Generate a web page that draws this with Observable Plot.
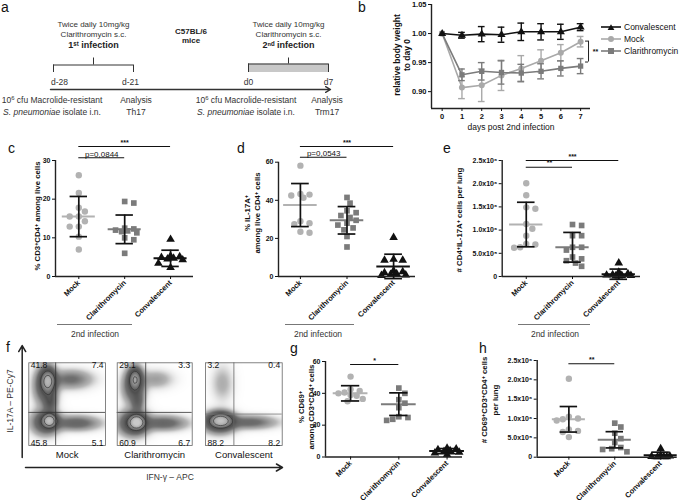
<!DOCTYPE html>
<html>
<head>
<meta charset="utf-8">
<script src="https://cdn.jsdelivr.net/npm/d3@7"></script>
<script src="https://cdn.jsdelivr.net/npm/@observablehq/plot@0.6"></script>
<style>
  html,body{margin:0;padding:0;background:#fff;}
  #fig{position:relative;width:683px;height:504px;overflow:hidden;background:#fff;font-family:"Liberation Sans",Arial,Helvetica,sans-serif;color:#111;}
  .layer{position:absolute;left:0;top:0;}
  .t{position:absolute;white-space:nowrap;line-height:1;}
  .c{transform:translate(-50%,-50%);text-align:center;}
  .r{transform:translate(-50%,-50%) rotate(-90deg);text-align:center;}
  sup{font-size:70%;line-height:0;vertical-align:0.45em;}
</style>
</head>
<body>
<div id="fig"></div>
<script>
// ================= DATA =================
const groups = ["Mock", "Clarithromycin", "Convalescent"];
const groupColors = ["#b2b2b2", "#7b7b7b", "#111111"];
const groupSymbols = ["circle", "square", "triangle"];

// panel a (timeline)
const phases = [
  {start: -28, end: -21, title: "Twice daily 10mg/kg\nClarithromycin s.c.", infection: "1ˢᵗ infection", filled: false},
  {start: 0, end: 7, title: "Twice daily 10mg/kg\nClarithromycin s.c.", infection: "2ⁿᵈ infection", filled: true}
];
const timepoints = [{day: -28, label: "d-28"}, {day: -21, label: "d-21"}, {day: 0, label: "d0"}, {day: 7, label: "d7"}];
const strainLabel = "C57BL/6\nmice";

// panel b (body weight)
const days = [0, 1, 2, 3, 4, 5, 6, 7];
const bSeries = ["Mock", "Clarithromycin", "Convalescent"];
const weightMock = [1.000, 0.907, 0.911, 0.928, 0.940, 0.953, 0.967, 0.986];
const weightMockSD = [0, 0.019, 0.028, 0.026, 0.022, 0.019, 0.014, 0.009];
const weightClari = [1.000, 0.929, 0.935, 0.933, 0.932, 0.935, 0.940, 0.944];
const weightClariSD = [0, 0.010, 0.015, 0.020, 0.015, 0.013, 0.013, 0.013];
const weightConv = [1.000, 0.997, 0.999, 0.998, 1.003, 1.003, 1.003, 1.011];
const weightConvSD = [0, 0.005, 0.013, 0.013, 0.015, 0.014, 0.013, 0.006];
const bYTicks = [0.90, 0.95, 1.00, 1.05];
const bSig = {low: 0.951, high: 0.987, label: "**"};

// panel c
const cMock = [26.2, 21.6, 17.8, 16.8, 15.5, 15.5, 14.3, 12.9, 12.9, 10.3, 7.0];
const cClari = [19.4, 19.0, 12.5, 12.3, 12.0, 11.8, 11.6, 11.3, 10.0, 9.5, 6.0];
const cConv = [9.6, 5.3, 5.1, 4.9, 4.7, 4.5, 4.3, 3.4, 2.3];
const cMean = [15.5, 12.2, 4.7], cSD = [5.2, 3.7, 2.1];
const cTicks = [0, 10, 20, 30], cTickLabels = ["0", "10", "20", "30"];
const cSigs = [{a: "Mock", b: "Convalescent", label: "***"}, {a: "Mock", b: "Clarithromycin", label: "p=0,0844"}];

// panel d
const dMock = [58.2, 43.3, 43.0, 42.5, 41.3, 29.0, 28.0, 27.5, 23.5, 23.0];
const dClari = [41.5, 38.5, 34.5, 33.5, 32.0, 31.0, 29.5, 28.0, 27.0, 25.5, 24.5, 21.0, 15.5];
const dConv = [20.5, 9.0, 8.5, 8.5, 3.0, 2.5, 2.0, 1.5, 1.0, 0.8, 0.5];
const dMean = [37.5, 29.5, 5.3], dSD = [11.3, 7.2, 6.4];
const dTicks = [0, 20, 40, 60], dTickLabels = ["0", "20", "40", "60"];
const dSigs = [{a: "Mock", b: "Convalescent", label: "***"}, {a: "Mock", b: "Clarithromycin", label: "p=0,0543"}];

// panel e (x 10^6)
const eMock = [2.01, 1.75, 1.49, 1.46, 1.13, 1.03, 0.88, 0.70, 0.69, 0.63, 0.62];
const eClari = [1.12, 1.10, 0.88, 0.88, 0.63, 0.63, 0.57, 0.42, 0.38, 0.34, 0.29, 0.22];
const eConv = [0.29, 0.09, 0.06, 0.04, 0.03, 0.02, 0.02, 0.01, 0.01];
const eMean = [1.12, 0.63, 0.05], eSD = [0.48, 0.32, 0.11];
const millionTicks = [0, 0.5, 1, 1.5, 2, 2.5];
const millionTickLabels = ["0", "5.0x10⁵", "1.0x10⁶", "1.5x10⁶", "2.0x10⁶", "2.5x10⁶"];
const eSigs = [{a: "Mock", b: "Convalescent", label: "***"}, {a: "Mock", b: "Clarithromycin", label: "**"}];

// panel g
const gMock = [50.5, 42.5, 41.5, 40.5, 40.0, 39.0, 38.5, 36.5, 35.0];
const gClari = [43.3, 40.0, 36.0, 33.8, 31.0, 25.3, 24.8, 23.7, 23.0];
const gConv = [5.5, 5.0, 4.5, 4.0, 3.5, 3.0, 2.5, 1.5];
const gMean = [40.0, 33.2, 3.7], gSD = [4.8, 7.1, 1.6];
const gTicks = [0, 20, 40, 60], gTickLabels = ["0", "20", "40", "60"];
const gSigs = [{a: "Mock", b: "Clarithromycin", label: "*"}];

// panel h (x 10^6)
const hMock = [2.03, 1.05, 1.00, 0.98, 0.95, 0.72, 0.68, 0.65, 0.52];
const hClari = [0.88, 0.78, 0.62, 0.48, 0.38, 0.25, 0.22, 0.20, 0.14];
const hConv = [0.22, 0.04, 0.03, 0.02, 0.02, 0.01, 0.01];
const hMean = [0.98, 0.45, 0.05], hSD = [0.33, 0.21, 0.08];
const hSigs = [{a: "Mock", b: "Clarithromycin", label: "**"}];

// panel f (flow cytometry): quadrant % [UL, UR, LL, LR], gate (% of IFN-γ axis, % of IL-17A axis)
const flowSamples = ["Mock", "Clarithromycin", "Convalescent"];
const flowQuadrants = [[41.8, 7.4, 45.8, 5.1], [29.1, 3.3, 60.9, 6.7], [3.2, 0.4, 88.2, 8.2]];
const flowGates = [[35, 40], [38, 40], [37, 38]];
// cell populations: [IFN-γ centre, IL-17A centre, spread x, spread y, weight]
const flowPopMock = [[25,78,5.5,8,1.0],[22,72,9,14,0.3],[28,53,5,8,0.25],[27,30,5.5,5,1.2],[22,28,11,9,0.32],[62,27,19,5.5,0.2],[55,80,17,7,0.16]];
const flowPopClari = [[24,80,5,7.5,0.8],[22,72,9,13,0.27],[27,53,5,8,0.18],[26,28,6,5,1.5],[22,27,12,9,0.4],[62,27,19,5.5,0.2],[52,80,14,7,0.08]];
const flowPopConv = [[20,30,8.5,5,1.2],[18,28,13,8,0.32],[58,28,21,5,0.18],[22,75,9,14,0.06]];

// ================= HELPERS =================
const fig = document.getElementById("fig");
const FONT = '"Liberation Sans", Arial, Helvetica, sans-serif';
function add(el) { if (el) { el.classList.add("layer"); fig.appendChild(el); } }
function safe(fn, fallback) {
  try { add(fn()); } catch (e) { console.error(e); if (fallback) { try { add(fallback()); } catch (e2) { console.error(e2); } } }
}
function html(content, x, y, cls, css = "") {
  const d = document.createElement("div");
  d.className = "t " + cls;
  d.style.cssText = `left:${x}px;top:${y}px;${css}`;
  d.innerHTML = content;
  fig.appendChild(d);
}
// GraphPad-like scatter layout: spread points sideways only where they would overlap
function swarm(values, ppuY, r = 3.2, maxOff = 13) {
  const placed = [], out = [];
  const order = values.map(v => ({v})).sort((a, b) => b.v - a.v);
  const step = r * 0.95;
  for (const p of order) {
    const py = p.v * ppuY;
    let best = null, thr = 2 * r;
    while (best === null) {
      for (let k = 0; k < 40; k++) {
        const off = k === 0 ? 0 : (k % 2 ? 1 : -1) * Math.ceil(k / 2) * step;
        if (Math.abs(off) > maxOff) break;
        if (placed.every(q => Math.hypot(q.x - off, q.y - py) >= thr)) { best = off; break; }
      }
      thr *= 0.8;
      if (thr < 0.5) best = 0;
    }
    placed.push({x: best, y: py});
    out.push({v: p.v, off: best});
  }
  return out;
}
const baseStyle = {background: "transparent", fontFamily: FONT, fontSize: "7px", fontWeight: "bold", overflow: "visible", color: "#111"};

function scatterPanel(L, D) {
  const ppuY = (L.y0 - L.yTopPx) / L.yTop;
  const domTop = (L.y0 - L.frameTop) / ppuY;
  const ppuX = (L.x1 - L.x0) / (L.xDomain[1] - L.xDomain[0]);
  const pts = [];
  D.values.forEach((vals, i) => swarm(vals, ppuY).forEach(p => pts.push({g: groups[i], x: i + p.off / ppuX, y: p.v})));
  const stats = groups.map((g, i) => ({g, i, mean: D.mean[i], lo: D.mean[i] - D.sd[i], hi: D.mean[i] + D.sd[i]}));
  const caps = stats.flatMap(s => [{i: s.i, y: s.lo}, {i: s.i, y: s.hi}]);
  const sigs = D.sigs.map((s, k) => ({...s, ia: groups.indexOf(s.a), ib: groups.indexOf(s.b), y: (L.y0 - L.sigPx[k]) / ppuY}));
  const stars = sigs.filter(s => /^\*+$/.test(s.label));
  const pvals = sigs.filter(s => !/^\*+$/.test(s.label));
  return Plot.plot({
    width: 683, height: 504,
    marginLeft: L.x0, marginRight: 683 - L.x1, marginTop: L.frameTop, marginBottom: 504 - L.y0,
    x: {domain: L.xDomain},
    y: {domain: [0, domTop]},
    color: {domain: groups, range: groupColors},
    symbol: {domain: groups, range: groupSymbols},
    style: baseStyle,
    marks: [
      Plot.dot(pts, {x: "x", y: "y", fill: "g", symbol: "g", r: 3.2}),
      Plot.ruleY(stats, {y: "mean", x1: d => d.i - 0.36, x2: d => d.i + 0.36, stroke: "g", strokeWidth: 2}),
      Plot.ruleX(stats, {x: "i", y1: "lo", y2: "hi", stroke: "#111", strokeWidth: 1.7}),
      Plot.ruleY(caps, {y: "y", x1: d => d.i - 0.19, x2: d => d.i + 0.19, stroke: "#111", strokeWidth: 1.7}),
      Plot.ruleY([0], {stroke: "#222", strokeWidth: 1.4}),
      Plot.ruleX([L.xDomain[0]], {y1: 0, y2: L.yTop, stroke: "#222", strokeWidth: 1.4}),
      Plot.axisY({ticks: D.ticks, tickFormat: d => D.tickLabels[D.ticks.indexOf(d)], tickSize: 3, tickPadding: 2, label: null, fontSize: 7}),
      Plot.axisX({ticks: [0, 1, 2], tickFormat: i => groups[i], tickRotate: -45, tickSize: 3, tickPadding: 2, label: null, fontSize: 7.5}),
      Plot.ruleY(sigs, {y: "y", x1: "ia", x2: "ib", stroke: "#111", strokeWidth: 1.1}),
      Plot.text(stars, {x: d => (d.ia + d.ib) / 2, y: "y", text: "label", dy: -4, fontSize: 7, fontWeight: "bold"}),
      Plot.text(pvals, {x: d => (d.ia + d.ib) / 2, y: "y", text: "label", lineAnchor: "bottom", dy: -1, fontSize: 8, fontWeight: "normal"})
    ]
  });
}

// ================= PANEL A =================
// schematic (broken) time axis: the two 7-day phases are drawn wider than the gap between them
const timelineUnits = d3.scaleLinear().domain([-28, -21, 0, 7]).range([0, 80, 195, 275]);
const T = d => timelineUnits(d);
const RA = {treat: 28, inf: 45, tick: 57.5, top: 64.5, foot: 72, day: 82, axis: 89, mice: 35};
safe(() => Plot.plot({
  width: 683, height: 504, marginLeft: 53, marginRight: 683 - 328, marginTop: 0, marginBottom: 0,
  x: {domain: [0, 275], axis: null},
  y: {type: "identity", axis: null},
  style: {...baseStyle, fontWeight: "normal"},
  marks: [
    Plot.rect(phases.filter(p => p.filled), {x1: d => T(d.start), x2: d => T(d.end), y1: () => RA.top - 1, y2: () => RA.foot, fill: "#c8c8c8"}),
    Plot.ruleY(phases, {y: d => d.filled ? RA.top - 1 : RA.top, x1: d => T(d.start), x2: d => T(d.end), stroke: "#333", strokeWidth: 1}),
    Plot.ruleX(phases.flatMap(p => [{x: p.start, p}, {x: p.end, p}]), {x: d => T(d.x), y1: d => d.p.filled ? RA.top - 1 : RA.top, y2: () => RA.foot, stroke: "#333", strokeWidth: 1}),
    Plot.ruleX(phases, {x: d => T((d.start + d.end) / 2), y1: () => RA.tick, y2: d => d.filled ? RA.top - 1 : RA.top, stroke: "#333", strokeWidth: 1}),
    Plot.arrow([{from: d3.min(timepoints, d => d.day), to: d3.max(timepoints, d => d.day)}], {x1: d => T(d.from) - 3, x2: d => T(d.to) + 2, y1: () => RA.axis, y2: () => RA.axis, stroke: "#333", strokeWidth: 1.4, headLength: 6}),
    Plot.text(phases, {x: d => T((d.start + d.end) / 2), y: () => RA.treat, text: "title", fontSize: 8, lineHeight: 1.25, fill: "#333"}),
    Plot.text(phases, {x: d => T((d.start + d.end) / 2), y: () => RA.inf, text: "infection", fontSize: 9, fontWeight: "bold", fill: "#222"}),
    Plot.text([strainLabel], {x: () => (T(phases[0].end) + T(phases[1].start)) / 2, y: () => RA.mice, text: d => d, fontSize: 8, fontWeight: "bold", lineHeight: 1.2, fill: "#222"}),
    Plot.text(timepoints.filter(d => d.day === -28), {x: d => T(d.day), y: () => RA.day, text: "label", fontSize: 8.5, fill: "#333", dx: 6}),
    Plot.text(timepoints.filter(d => d.day === -21), {x: d => T(d.day), y: () => RA.day, text: "label", fontSize: 8.5, fill: "#333", dx: -3}),
    Plot.text(timepoints.filter(d => d.day >= 0), {x: d => T(d.day), y: () => RA.day, text: "label", fontSize: 8.5, fill: "#333"})
  ]
}));
html("10<sup>6</sup> cfu Macrolide-resistant<br><i>S. pneumoniae</i> isolate i.n.", 52, 106, "c", "font-size:8.5px;line-height:12px;color:#333;");
html("Analysis<br>Th17", 136, 106, "c", "font-size:8.5px;line-height:12px;color:#333;");
html("10<sup>6</sup> cfu Macrolide-resistant<br><i>S. pneumoniae</i> isolate i.n.", 246, 106, "c", "font-size:8.5px;line-height:12px;color:#333;");
html("Analysis<br>Trm17", 327, 106, "c", "font-size:8.5px;line-height:12px;color:#333;");

// ================= PANEL B =================
const bW = {Mock: weightMock, Clarithromycin: weightClari, Convalescent: weightConv};
const bS = {Mock: weightMockSD, Clarithromycin: weightClariSD, Convalescent: weightConvSD};
const bColors = ["#a9a9a9", "#7b7b7b", "#111111"];
const bRows = bSeries.flatMap(s => days.map((d, k) => ({s, day: d, w: bW[s][k], sd: bS[s][k]})));
safe(() => {
  const marks = [];
  for (const s of bSeries) {
    const rows = bRows.filter(r => r.s === s);
    const err = rows.filter(r => r.sd > 0);
    const caps = err.flatMap(r => [{s, day: r.day, y: r.w - r.sd}, {s, day: r.day, y: r.w + r.sd}]);
    marks.push(
      Plot.ruleX(err, {x: "day", y1: d => d.w - d.sd, y2: d => d.w + d.sd, stroke: "s", strokeWidth: 1.4}),
      Plot.ruleY(caps, {y: "y", x1: d => d.day - 0.17, x2: d => d.day + 0.17, stroke: "s", strokeWidth: 1.4}),
      Plot.line(rows, {x: "day", y: "w", stroke: "s", strokeWidth: 1.6}),
      Plot.dot(rows, {x: "day", y: "w", fill: "s", symbol: "s", r: 3})
    );
  }
  const sigX = d3.max(days) + 0.4;
  marks.push(
    Plot.ruleX([bSig], {x: () => sigX, y1: "low", y2: "high", stroke: "#222", strokeWidth: 1}),
    Plot.ruleY([bSig.low, bSig.high], {y: d => d, x1: () => sigX - 0.15, x2: () => sigX, stroke: "#222", strokeWidth: 1}),
    Plot.text([bSig], {x: () => sigX, y: d => (d.low + d.high) / 2, text: "label", dx: 7, fontSize: 7, fontWeight: "bold"}),
    Plot.ruleX([-0.54], {stroke: "#222", strokeWidth: 1.4}),
    Plot.ruleY([0.871], {stroke: "#222", strokeWidth: 1.4}),
    Plot.axisY({ticks: bYTicks, tickFormat: d => d.toFixed(2), tickSize: 3, tickPadding: 2, label: null, fontSize: 7.5}),
    Plot.axisX({ticks: days, tickFormat: d => String(d), tickSize: 3, tickPadding: 2, label: null, fontSize: 7.5}),
    Plot.text(["days post 2nd infection"], {frameAnchor: "bottom", dy: 21, text: d => d, fontSize: 8.5, fontWeight: "normal"})
  );
  return Plot.plot({
    width: 683, height: 504, marginLeft: 431, marginRight: 93, marginTop: 4, marginBottom: 396,
    x: {domain: [-0.54, 7.5]}, y: {domain: [0.871, 1.05]},
    color: {domain: bSeries, range: bColors},
    symbol: {domain: bSeries, range: ["circle", "square", "triangle"]},
    style: baseStyle, marks
  });
});
html("relative body weight<br>to day 0", 402, 55, "r", "font-size:8.5px;font-weight:bold;line-height:10px;");
const legendOrder = ["Convalescent", "Mock", "Clarithromycin"];
const legendSym = {
  Convalescent: '<path d="M11,3.2 L14.4,9 L7.6,9 Z" fill="#111"/>',
  Mock: '<circle cx="11" cy="6" r="3" fill="#a9a9a9"/>',
  Clarithromycin: '<rect x="8" y="3" width="6" height="6" fill="#7b7b7b"/>'
};
legendOrder.forEach((s, k) => {
  const col = bColors[bSeries.indexOf(s)];
  html(`<svg width="22" height="12" style="vertical-align:middle"><line x1="1" x2="21" y1="6" y2="6" stroke="${col}" stroke-width="1.6"/>${legendSym[s]}</svg><span style="margin-left:2px;vertical-align:middle">${s}</span>`,
    600, 21 + k * 12.2, "", "font-size:8.5px;");
});

// ================= PANELS C, D, E, G, H =================
safe(() => scatterPanel(
  {x0: 55, x1: 193, xDomain: [-0.508, 2.5], y0: 276, yTopPx: 160, yTop: 30, frameTop: 140, sigPx: [146, 157.3]},
  {values: [cMock, cClari, cConv], mean: cMean, sd: cSD, ticks: cTicks, tickLabels: cTickLabels, sigs: cSigs}));
safe(() => scatterPanel(
  {x0: 278, x1: 415, xDomain: [-0.47, 2.47], y0: 276, yTopPx: 161.7, yTop: 60, frameTop: 140, sigPx: [146, 156.7]},
  {values: [dMock, dClari, dConv], mean: dMean, sd: dSD, ticks: dTicks, tickLabels: dTickLabels, sigs: dSigs}));
safe(() => scatterPanel(
  {x0: 501.7, x1: 640, xDomain: [-0.52, 2.47], y0: 276, yTopPx: 160, yTop: 2.5, frameTop: 145, sigPx: [160, 166.7]},
  {values: [eMock, eClari, eConv], mean: eMean, sd: eSD, ticks: millionTicks, tickLabels: millionTickLabels, sigs: eSigs}));
safe(() => scatterPanel(
  {x0: 325, x1: 462, xDomain: [-0.52, 2.32], y0: 456.5, yTopPx: 361, yTop: 60, frameTop: 345, sigPx: [364]},
  {values: [gMock, gClari, gConv], mean: gMean, sd: gSD, ticks: gTicks, tickLabels: gTickLabels, sigs: gSigs}));
safe(() => scatterPanel(
  {x0: 536.7, x1: 676.7, xDomain: [-0.69, 2.36], y0: 456.7, yTopPx: 360, yTop: 2.5, frameTop: 345, sigPx: [363.3]},
  {values: [hMock, hClari, hConv], mean: hMean, sd: hSD, ticks: millionTicks, tickLabels: millionTickLabels, sigs: hSigs}));

html("% CD3<sup>+</sup>CD4<sup>+</sup> among live cells", 38, 216, "r", "font-size:7.8px;font-weight:bold;");
html("% IL-17A<sup>+</sup><br>among live CD4<sup>+</sup> cells", 253, 213, "r", "font-size:7.8px;font-weight:bold;line-height:10px;");
html("# CD4<sup>+</sup>IL-17A<sup>+</sup> cells per lung", 460, 220, "r", "font-size:7.8px;font-weight:bold;");
html("% CD69<sup>+</sup><br>among CD3<sup>+</sup>CD4<sup>+</sup> cells", 306.7, 406.7, "r", "font-size:7.8px;font-weight:bold;line-height:10px;");
html("# CD69<sup>+</sup>CD3<sup>+</sup>CD4<sup>+</sup> cells<br>per lung", 490, 400, "r", "font-size:7.8px;font-weight:bold;line-height:11px;");

[[57, 132, 95], [285, 354, 318], [518, 590, 555]].forEach(([a, b, m]) => {
  const line = document.createElement("div");
  line.style.cssText = `position:absolute;left:${a}px;top:324px;width:${b - a}px;height:0;border-top:1.6px solid #777;`;
  fig.appendChild(line);
  html("2nd infection", m, 334, "c", "font-size:8.5px;color:#333;");
});

// ================= PANEL F =================
const flowBoxes = [{x0: 28.3, x1: 105}, {x0: 116.7, x1: 191.7}, {x0: 205, x1: 281.7}];
const flowPops = [flowPopMock, flowPopClari, flowPopConv];
function density(pops, x, y) {
  let s = 0;
  for (const [cx, cy, sx, sy, w] of pops) s += w * Math.exp(-((x - cx) ** 2) / (2 * sx * sx) - ((y - cy) ** 2) / (2 * sy * sy));
  return s;
}
flowSamples.forEach((name, k) => {
  const B = flowBoxes[k];
  const pops = flowPops[k];
  const q = flowQuadrants[k];
  const [gx, gy] = flowGates[k];
  const build = (withContour) => Plot.plot({
    width: 683, height: 504,
    marginLeft: B.x0, marginRight: 683 - B.x1, marginTop: 362.3, marginBottom: 504 - 445,
    x: {domain: [0, 100], axis: null}, y: {domain: [0, 100], axis: null},
    color: {type: "linear", domain: [0, 0.015, 0.05, 0.15, 0.35, 0.7, 1.1, 1.6], range: ["#ffffff", "#ececec", "#b5b5b5", "#6f6f6f", "#4e4e4e", "#808080", "#adadad", "#c9c9c9"], clamp: true},
    style: {...baseStyle, fontWeight: "normal", fontSize: "8.5px"},
    marks: [
      Plot.raster({x1: 0, y1: 0, x2: 100, y2: 100, fill: (x, y) => density(pops, x, y), pixelSize: 1}),
      ...(withContour ? [Plot.contour({x1: 0, y1: 0, x2: 100, y2: 100, value: (x, y) => density(pops, x, y), thresholds: [0.45, 0.9], stroke: "#2a2a2a", strokeWidth: 0.6, fill: "none"})] : []),
      Plot.ruleX([gx], {stroke: k === 2 ? "#666" : "#333", strokeWidth: 0.8}),
      Plot.ruleY([gy], {stroke: k === 2 ? "#777" : "#333", strokeWidth: 0.8}),
      Plot.frame({stroke: "#666", strokeWidth: 0.8}),
      Plot.text([q[0]], {frameAnchor: "top-left", text: d => d.toFixed(1), dx: 2, dy: -1, fontSize: 8.5}),
      Plot.text([q[1]], {frameAnchor: "top-right", text: d => d.toFixed(1), dx: -2, dy: -1, fontSize: 8.5}),
      Plot.text([q[2]], {frameAnchor: "bottom-left", text: d => d.toFixed(1), dx: 2, dy: 0, fontSize: 8.5}),
      Plot.text([q[3]], {frameAnchor: "bottom-right", text: d => d.toFixed(1), dx: -2, dy: 0, fontSize: 8.5}),
      Plot.text([name], {frameAnchor: "bottom", lineAnchor: "middle", text: d => d, dy: 9.5, fontSize: 9.5})
    ]
  });
  safe(() => build(true), () => build(false));
});
safe(() => Plot.plot({
  width: 683, height: 504, margin: 0,
  x: {type: "identity", axis: null}, y: {type: "identity", axis: null},
  style: baseStyle,
  marks: [
    Plot.arrow([{x1: 21.7, y1: 457, x2: 21.7, y2: 345}], {x1: "x1", y1: "y1", x2: "x2", y2: "y2", stroke: "#222", strokeWidth: 1.5, headLength: 7}),
    Plot.arrow([{x1: 25, y1: 467, x2: 282, y2: 467}], {x1: "x1", y1: "y1", x2: "x2", y2: "y2", stroke: "#222", strokeWidth: 1.5, headLength: 7})
  ]
}));
html("IL-17A – PE-Cy7", 10, 401, "r", "font-size:8.5px;color:#333;");
html("IFN-γ – APC", 170, 477, "c", "font-size:8.5px;color:#333;");

// ================= PANEL LETTERS =================
[["a", 1, 0], ["b", 358, 0], ["c", 8, 141], ["d", 237, 141], ["e", 443, 141], ["f", 6, 340], ["g", 290, 341], ["h", 479, 341]]
  .forEach(([t, x, y]) => html(t, x, y, "", "font-size:14px;"));
</script>
</body>
</html>
